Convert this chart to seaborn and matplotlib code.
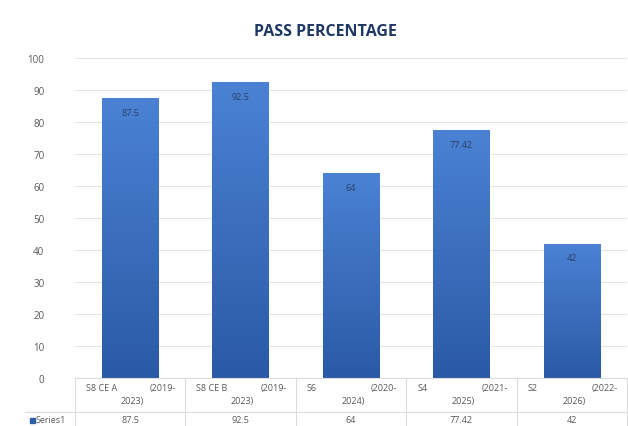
import numpy as np
import pandas as pd
import matplotlib
matplotlib.use("Agg")
import matplotlib.pyplot as plt
import seaborn as sns
from matplotlib.colors import LinearSegmentedColormap

# data
semesters = ["S8 CE A", "S8 CE B", "S6", "S4", "S2"]
batch_start = ["(2019-", "(2019-", "(2020-", "(2021-", "(2022-"]
batch_end = ["2023)", "2023)", "2024)", "2025)", "2026)"]
pass_pct = [87.5, 92.5, 64, 77.42, 42]
value_text = ["87.5", "92.5", "64", "77.42", "42"]

df = pd.DataFrame({"cls": [f"{a} {b}{c}" for a, b, c in zip(semesters, batch_start, batch_end)],
                   "pct": pass_pct})

sns.set_style("white")
plt.rcParams['font.family'] = ['Open Sans', 'DejaVu Sans']

W, H = 628, 427
fig = plt.figure(figsize=(W / 100, H / 100), dpi=100)
ax = fig.add_axes([75 / W, 1 - 379 / H, 552 / W, 320 / H])

sns.barplot(data=df, x="cls", y="pct", color="#3b6fc2", width=0.51, ax=ax, saturation=1)

# gradient fill on the bars
cmap = LinearSegmentedColormap.from_list("bar", ["#2a5aa5", "#4b82d4"])
grad = np.linspace(0, 1, 256).reshape(-1, 1)
for i, p in enumerate(ax.patches):
    x0, w, h = p.get_x(), p.get_width(), p.get_height()
    im = ax.imshow(grad, extent=[x0, x0 + w, 0, h], origin="lower", cmap=cmap,
                   aspect="auto", zorder=p.get_zorder() + 0.1)
    im.set_clip_path(p)
    ax.text(x0 + w / 2, h - 4.5, value_text[i], ha="center", va="center",
            fontsize=6.5, color="#2b3f66", zorder=5)

ax.set_xlim(-0.5, 4.5)
ax.set_ylim(0, 100)
ax.set_yticks(range(0, 101, 10))
ax.yaxis.grid(True, color="#e3e3e3", linewidth=0.8)
ax.set_axisbelow(True)
ax.tick_params(axis="y", length=0, labelsize=7, labelcolor="#595959", pad=22)
ax.set_xticks([])
ax.set_xlabel("")
ax.set_ylabel("")
for s in ax.spines.values():
    s.set_visible(False)

fig.text(325 / W, 1 - 32 / H, "PASS PERCENTAGE", ha="center", va="center",
         fontsize=11.5, fontweight="bold", color="#203864")

# data table under the plot
line_c = "#dcdcdc"
x_left, x_right = 75, 627
cell_w = (x_right - x_left) / 5
y_top, y_mid, y_bot = 379, 413, 427
tf = lambda x, y: (x / W, 1 - y / H)
fig.add_artist(plt.Line2D([x_left / W, x_right / W], [1 - y_top / H] * 2, color=line_c, lw=0.8))
fig.add_artist(plt.Line2D([25 / W, x_right / W], [1 - y_mid / H] * 2, color=line_c, lw=0.8))
for i in range(6):
    xv = x_left + i * cell_w
    fig.add_artist(plt.Line2D([xv / W] * 2, [1 - y_top / H, 0], color=line_c, lw=0.8))

tk = dict(fontsize=6.5, color="#595959")
for i in range(5):
    cx = x_left + i * cell_w
    fig.text(*tf(cx + 11, 389), semesters[i], ha="left", va="center", **tk)
    fig.text(*tf(cx + cell_w - 9, 389), batch_start[i], ha="right", va="center", **tk)
    fig.text(*tf(cx + cell_w / 2 + 2, 402), batch_end[i], ha="center", va="center", **tk)
    fig.text(*tf(cx + cell_w / 2, 421), value_text[i], ha="center", va="center", **tk)

fig.add_artist(plt.Rectangle(tf(30, 423.5), 4.5 / W, 5 / H, color="#2e5ea8"))
fig.text(*tf(35.5, 421), "Series1", ha="left", va="center", **tk)

fig.savefig("out.png", dpi=100)
